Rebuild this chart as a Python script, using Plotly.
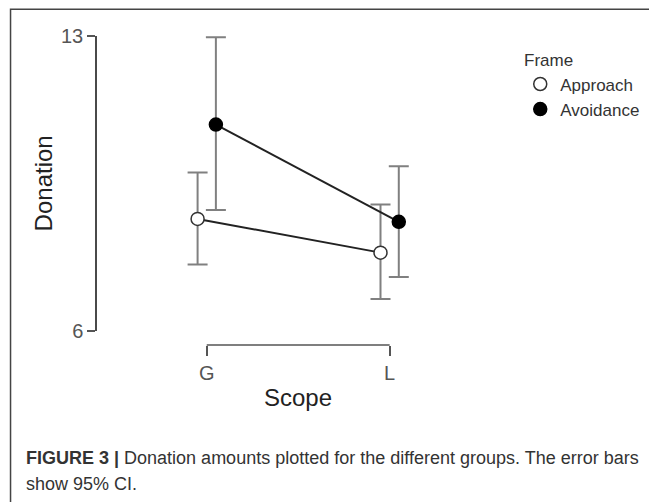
import plotly.graph_objects as go

# ---- data ----
scope = ["G", "L"]
approach_mean = [8.66, 7.86]
approach_upper = [9.76, 9.00]
approach_lower = [7.58, 6.76]
avoid_mean = [10.90, 8.59]
avoid_upper = [12.97, 9.91]
avoid_lower = [8.87, 7.28]
y_ticks = [6, 13]
legend_title = "Frame"
caption_bold = "FIGURE 3 |"
caption_line1 = " Donation amounts plotted for the different groups. The error bars"
caption_line2 = "show 95% CI."

# ---- layout geometry (screen pixels; page body has an 8px margin) ----
OFF = 8
W, H = 657 - OFF, 502 - OFF
ML, MR, MT, MB = 97 - OFF, 17, 35.5 - OFF, 502 - 345
PW, PH = W - ML - MR, H - MT - MB

def px_x(p):
    return (p - OFF - ML) / PW

def px_y(p):
    return (H - MB - (p - OFF)) / PH

FONT = "Liberation Sans, Arial, sans-serif"
dodge = 0.05
xpos = list(range(len(scope)))
PX_PER_UNIT = 186.7
G_PX = 209

def err(mean, up, lo):
    return dict(type="data", symmetric=False,
                array=[u - m for u, m in zip(up, mean)],
                arrayminus=[m - l for m, l in zip(mean, lo)],
                color="#808080", thickness=2, width=10)

fig = go.Figure()
series = [
    ("Approach", -dodge, approach_mean, approach_upper, approach_lower, "white", "#333333"),
    ("Avoidance", dodge, avoid_mean, avoid_upper, avoid_lower, "black", "black"),
]
for name, off, mean, up, lo, fill, edge in series:
    xs = [x + off for x in xpos]
    fig.add_trace(go.Scatter(
        x=xs, y=mean, mode="lines", showlegend=False, hoverinfo="skip",
        line=dict(color="#222222", width=2),
    ))
    fig.add_trace(go.Scatter(
        x=xs, y=mean, name=name, mode="markers",
        marker=dict(size=13, color=fill, line=dict(color=edge, width=1.5)),
        error_y=err(mean, up, lo),
    ))

x0 = (97 - G_PX) / PX_PER_UNIT
x1 = (657 - MR - G_PX) / PX_PER_UNIT

fig.update_layout(
    width=W, height=H,
    margin=dict(l=ML, r=MR, t=MT, b=MB, pad=0),
    paper_bgcolor="white", plot_bgcolor="white",
    font=dict(family=FONT, color="#333333"),
    showlegend=True,
    legend=dict(
        font=dict(size=17, color="#333333"),
        x=px_x(529), y=px_y(66), xanchor="left", yanchor="top",
        bgcolor="rgba(0,0,0,0)", borderwidth=0,
        itemwidth=30, tracegroupgap=0,
    ),
    xaxis=dict(
        range=[x0, x1], anchor="free", position=0,
        tickvals=xpos, ticktext=scope,
        ticks="outside", ticklen=10, tickwidth=1.5, tickcolor="#555555",
        tickfont=dict(size=20, color="#555555"),
        showline=False, showgrid=False, zeroline=False,
    ),
    yaxis=dict(
        range=[6, 13], domain=[px_y(331), 1],
        tickvals=y_ticks, ticktext=[str(v) for v in y_ticks],
        ticks="outside", ticklen=8, tickwidth=1.5, tickcolor="#555555",
        tickfont=dict(size=20, color="#555555"),
        showline=True, linecolor="#4a4a4a", linewidth=1.5,
        showgrid=False, zeroline=False,
    ),
)

# x-axis bracket line between G and L
fig.add_shape(type="line", xref="x", yref="paper",
              x0=xpos[0], x1=xpos[-1], y0=0, y1=0,
              line=dict(color="#555555", width=1.5))

# outer frame (left and top border)
fig.add_shape(type="path", xref="paper", yref="paper",
              path=f"M {px_x(8.75)} {px_y(520)} L {px_x(8.75)} {px_y(8.75)} L {px_x(680)} {px_y(8.75)}",
              line=dict(color="#444444", width=1.5))

# legend title
fig.add_annotation(text=legend_title, xref="paper", yref="paper",
                   x=px_x(531), y=px_y(60), showarrow=False,
                   xanchor="left", yanchor="middle",
                   font=dict(size=17, color="#333333"))

# axis titles
fig.add_annotation(text="Scope", xref="x", yref="paper",
                   x=(xpos[0] + xpos[-1]) / 2, y=px_y(398),
                   showarrow=False, xanchor="center", yanchor="middle",
                   font=dict(size=24, color="#222222"))
fig.add_annotation(text="Donation", xref="paper", yref="paper",
                   x=px_x(42), y=px_y(183), textangle=-90,
                   showarrow=False, xanchor="center", yanchor="middle",
                   font=dict(size=24, color="#222222"))

# caption
fig.add_annotation(text=f"<b>{caption_bold}</b>{caption_line1}", xref="paper", yref="paper",
                   x=px_x(23), y=px_y(458), showarrow=False,
                   xanchor="left", yanchor="middle",
                   font=dict(size=18, color="#333333"))
fig.add_annotation(text=caption_line2, xref="paper", yref="paper",
                   x=px_x(23), y=px_y(484), showarrow=False,
                   xanchor="left", yanchor="middle",
                   font=dict(size=18, color="#333333"))

fig.write_html("out.html")
